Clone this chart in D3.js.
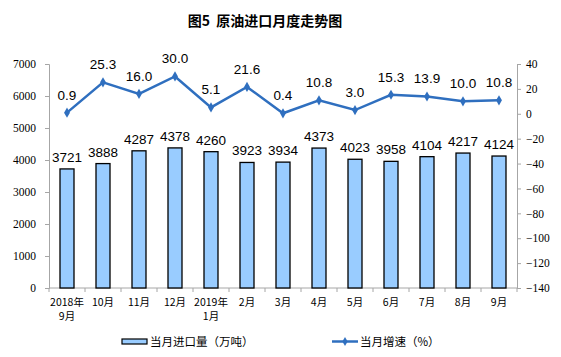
<!DOCTYPE html>
<html><head><meta charset="utf-8">
<script src="https://cdn.jsdelivr.net/npm/d3@7"></script>
<style>body{margin:0;background:#fff}svg{display:block}</style>
</head><body><svg id="c" width="561" height="357"></svg>
<script>
const categories = [["2018年","9月"],["10月"],["11月"],["12月"],["2019年","1月"],["2月"],["3月"],["4月"],["5月"],["6月"],["7月"],["8月"],["9月"]];
const volume = [3721,3888,4287,4378,4260,3923,3934,4373,4023,3958,4104,4217,4124];
const growth = [0.9,25.3,16.0,30.0,5.1,21.6,0.4,10.8,3.0,15.3,13.9,10.0,10.8];
const leftTicks = [0,1000,2000,3000,4000,5000,6000,7000];
const rightTicks = [40,20,0,-20,-40,-60,-80,-100,-120,-140];
const title = "图5  原油进口月度走势图";
const legendLabels = ["当月进口量（万吨）","当月增速（%）"];

const svg = d3.select("#c");
const L = 49, R = 517, T = 64, B = 288;
const idx = categories.map((d,i)=>i);
const x = d3.scaleBand().domain(idx).range([L,R]).padding(0);
const yL = d3.scaleLinear().domain([0,7000]).range([B,T]);
const yR = d3.scaleLinear().domain([-140,40]).range([B,T]);
const axisColor = "#a6a6a6";
const cjk = "'Noto Sans CJK SC', sans-serif";
const serif = "'Liberation Serif','DejaVu Serif', serif";

svg.append("text").attr("x",265).attr("y",26).attr("text-anchor","middle")
  .style("white-space","pre")
  .attr("font-family",cjk).attr("font-weight","bold").attr("font-size",14).text(title);

// left axis
const gl = svg.append("g").attr("transform",`translate(${L},0)`)
  .call(d3.axisLeft(yL).tickValues(leftTicks).tickSize(4).tickPadding(9).tickFormat(d3.format("d")));
gl.selectAll(".domain").attr("stroke",axisColor);
gl.selectAll(".tick line").attr("stroke",axisColor);
gl.selectAll(".tick text").attr("font-family",serif).attr("font-size",11.5).attr("fill","#000");

// right axis
const gr = svg.append("g").attr("transform",`translate(${R},0)`)
  .call(d3.axisRight(yR).tickValues(rightTicks).tickSize(4).tickPadding(5));
gr.selectAll(".domain").attr("stroke",axisColor);
gr.selectAll(".tick line").attr("stroke",axisColor);
gr.selectAll(".tick text").attr("font-family",serif).attr("font-size",11.5).attr("fill","#000");

// x axis
svg.append("line").attr("x1",L).attr("x2",R).attr("y1",B).attr("y2",B).attr("stroke",axisColor);
svg.selectAll(".xt").data(d3.range(categories.length+1)).join("line")
  .attr("x1",i=>L+i*x.bandwidth()).attr("x2",i=>L+i*x.bandwidth())
  .attr("y1",B).attr("y2",B+4).attr("stroke",axisColor);
const xl = svg.selectAll(".xl").data(categories).join("text")
  .attr("text-anchor","middle").attr("font-family",cjk).attr("font-size",10.5)
  .attr("transform",(d,i)=>`translate(${x(i)+x.bandwidth()/2},${B+18})`);
xl.selectAll("tspan").data(d=>d).join("tspan").attr("x",0).attr("dy",(d,j)=>j?14:0).text(d=>d);

// bars
const bw = 14;
svg.selectAll(".bar").data(volume).join("rect")
  .attr("x",(d,i)=>x(i)+x.bandwidth()/2-bw/2).attr("width",bw)
  .attr("y",d=>yL(d)).attr("height",d=>B-yL(d))
  .attr("fill","#99ccff").attr("stroke","#000").attr("stroke-width",1.3);
svg.selectAll(".bl").data(volume).join("text")
  .attr("x",(d,i)=>x(i)+x.bandwidth()/2).attr("y",d=>yL(d)-7)
  .attr("text-anchor","middle").attr("font-family","'Liberation Sans', Arial, sans-serif").attr("font-size",13.5)
  .text(d=>d);

// line
const lineColor = "#2f6fbf";
svg.append("path").datum(growth)
  .attr("d",d3.line().x((d,i)=>x(i)+x.bandwidth()/2).y(d=>yR(d)))
  .attr("fill","none").attr("stroke",lineColor).attr("stroke-width",2.5);
svg.selectAll(".pt").data(growth).join("path")
  .attr("d",d3.symbol(d3.symbolDiamond,30))
  .attr("transform",(d,i)=>`translate(${x(i)+x.bandwidth()/2},${yR(d)})`)
  .attr("fill",lineColor);
svg.selectAll(".gl").data(growth).join("text")
  .attr("x",(d,i)=>x(i)+x.bandwidth()/2).attr("y",d=>yR(d)-13)
  .attr("text-anchor","middle").attr("font-family","'Liberation Sans', Arial, sans-serif").attr("font-size",13.5)
  .text(d=>d.toFixed(1));

// legend
svg.append("rect").attr("x",122).attr("y",339).attr("width",25).attr("height",5)
  .attr("fill","#99ccff").attr("stroke","#000").attr("stroke-width",1.2);
svg.append("text").attr("x",150).attr("y",346).attr("font-family",cjk).attr("font-size",11.5).text(legendLabels[0]);
svg.append("line").attr("x1",332).attr("x2",358).attr("y1",341.5).attr("y2",341.5).attr("stroke",lineColor).attr("stroke-width",2.5);
svg.append("path").attr("d",d3.symbol(d3.symbolDiamond,24)).attr("transform","translate(345,341.5)").attr("fill",lineColor);
svg.append("text").attr("x",360).attr("y",346).attr("font-family",cjk).attr("font-size",11.5).text(legendLabels[1]);
</script></body></html>
